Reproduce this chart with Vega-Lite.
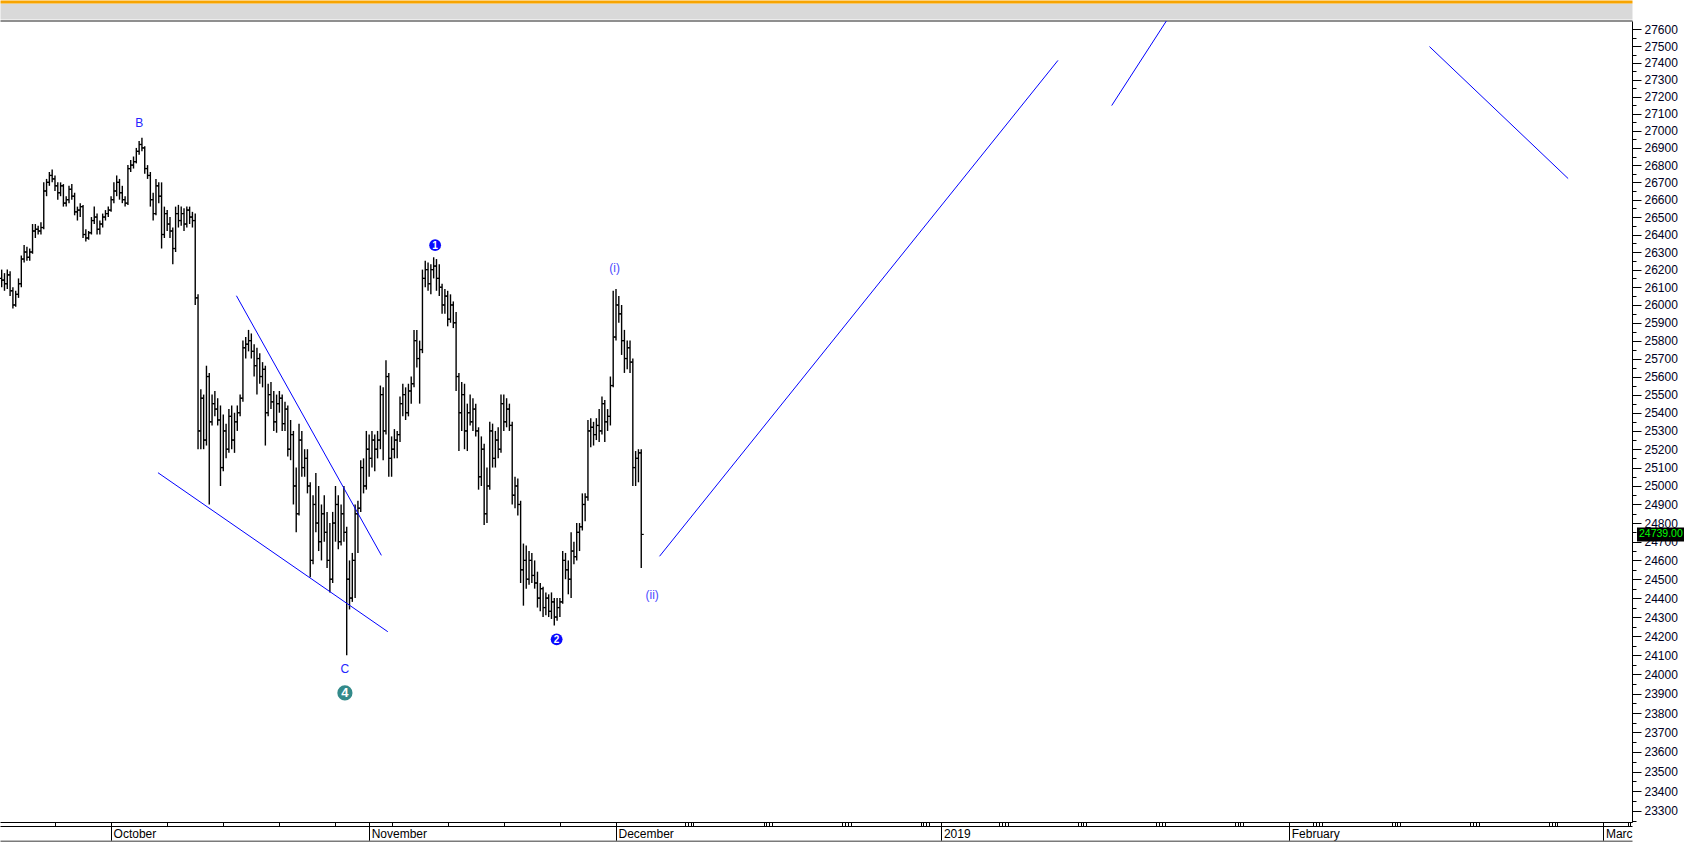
{
  "$schema": "https://vega.github.io/schema/vega-lite/v6.json",
  "width": 1632,
  "height": 801,
  "autosize": {"type": "none"},
  "padding": {"left": 0, "top": 21, "right": 52, "bottom": 20},
  "background": "#ffffff",
  "config": {"font": "Liberation Sans", "view": {"stroke": null}, "axis": {"labelFont": "Liberation Sans", "grid": false, "title": null}},
  "datasets": {
    "bars": [
      {"d":-9.75,"o":26150,"h":26200,"l":26100,"c":26140},
      {"d":-9.5,"o":26140,"h":26180,"l":26080,"c":26120},
      {"d":-9.25,"o":26120,"h":26200,"l":26090,"c":26170},
      {"d":-9.0,"o":26170,"h":26190,"l":26050,"c":26080},
      {"d":-8.75,"o":26080,"h":26100,"l":25980,"c":26000},
      {"d":-8.5,"o":26000,"h":26080,"l":25990,"c":26060},
      {"d":-8.25,"o":26060,"h":26150,"l":26040,"c":26120},
      {"d":-8.0,"o":26120,"h":26280,"l":26100,"c":26260},
      {"d":-7.75,"o":26260,"h":26340,"l":26240,"c":26300},
      {"d":-7.5,"o":26300,"h":26330,"l":26250,"c":26270},
      {"d":-7.25,"o":26270,"h":26320,"l":26250,"c":26300},
      {"d":-7.0,"o":26300,"h":26460,"l":26290,"c":26420},
      {"d":-6.75,"o":26420,"h":26460,"l":26380,"c":26430},
      {"d":-6.5,"o":26430,"h":26450,"l":26400,"c":26420},
      {"d":-6.25,"o":26420,"h":26470,"l":26400,"c":26440},
      {"d":-6.0,"o":26440,"h":26700,"l":26430,"c":26650},
      {"d":-5.75,"o":26650,"h":26720,"l":26620,"c":26700},
      {"d":-5.5,"o":26700,"h":26760,"l":26680,"c":26740},
      {"d":-5.25,"o":26740,"h":26775,"l":26700,"c":26720},
      {"d":-5.0,"o":26720,"h":26740,"l":26650,"c":26680},
      {"d":-4.75,"o":26680,"h":26700,"l":26600,"c":26640},
      {"d":-4.5,"o":26640,"h":26700,"l":26620,"c":26680},
      {"d":-4.25,"o":26680,"h":26690,"l":26560,"c":26580},
      {"d":-4.0,"o":26580,"h":26620,"l":26560,"c":26600},
      {"d":-3.75,"o":26600,"h":26680,"l":26580,"c":26660},
      {"d":-3.5,"o":26660,"h":26690,"l":26600,"c":26620},
      {"d":-3.25,"o":26620,"h":26640,"l":26510,"c":26530},
      {"d":-3.0,"o":26530,"h":26560,"l":26480,"c":26540},
      {"d":-2.75,"o":26540,"h":26580,"l":26500,"c":26560},
      {"d":-2.5,"o":26560,"h":26570,"l":26380,"c":26400},
      {"d":-2.25,"o":26400,"h":26430,"l":26360,"c":26380},
      {"d":-2.0,"o":26380,"h":26420,"l":26370,"c":26410},
      {"d":-1.75,"o":26410,"h":26500,"l":26400,"c":26480},
      {"d":-1.5,"o":26480,"h":26560,"l":26460,"c":26500},
      {"d":-1.25,"o":26500,"h":26520,"l":26400,"c":26430},
      {"d":-1.0,"o":26430,"h":26480,"l":26400,"c":26460},
      {"d":-0.75,"o":26460,"h":26520,"l":26440,"c":26500},
      {"d":-0.5,"o":26500,"h":26540,"l":26480,"c":26520},
      {"d":-0.25,"o":26520,"h":26560,"l":26500,"c":26540},
      {"d":0.0,"o":26540,"h":26620,"l":26530,"c":26600},
      {"d":0.25,"o":26600,"h":26700,"l":26580,"c":26650},
      {"d":0.5,"o":26650,"h":26740,"l":26620,"c":26700},
      {"d":0.75,"o":26700,"h":26720,"l":26600,"c":26640},
      {"d":1.0,"o":26640,"h":26680,"l":26580,"c":26600},
      {"d":1.25,"o":26600,"h":26620,"l":26560,"c":26580},
      {"d":1.5,"o":26580,"h":26800,"l":26570,"c":26780},
      {"d":1.75,"o":26780,"h":26830,"l":26760,"c":26800},
      {"d":2.0,"o":26800,"h":26850,"l":26780,"c":26820},
      {"d":2.25,"o":26820,"h":26900,"l":26810,"c":26880},
      {"d":2.5,"o":26880,"h":26940,"l":26860,"c":26920},
      {"d":2.75,"o":26920,"h":26960,"l":26880,"c":26900},
      {"d":3.0,"o":26900,"h":26910,"l":26750,"c":26780},
      {"d":3.25,"o":26780,"h":26800,"l":26720,"c":26740},
      {"d":3.5,"o":26740,"h":26760,"l":26560,"c":26600},
      {"d":3.75,"o":26600,"h":26640,"l":26480,"c":26520},
      {"d":4.0,"o":26520,"h":26720,"l":26510,"c":26680},
      {"d":4.25,"o":26680,"h":26700,"l":26580,"c":26620},
      {"d":4.5,"o":26620,"h":26700,"l":26320,"c":26400},
      {"d":4.75,"o":26400,"h":26560,"l":26380,"c":26520},
      {"d":5.0,"o":26520,"h":26540,"l":26420,"c":26460},
      {"d":5.25,"o":26460,"h":26500,"l":26380,"c":26420},
      {"d":5.5,"o":26420,"h":26440,"l":26230,"c":26320},
      {"d":5.75,"o":26320,"h":26560,"l":26300,"c":26520},
      {"d":6.0,"o":26520,"h":26570,"l":26440,"c":26480},
      {"d":6.25,"o":26480,"h":26560,"l":26450,"c":26520},
      {"d":6.5,"o":26520,"h":26550,"l":26420,"c":26460},
      {"d":6.75,"o":26460,"h":26560,"l":26440,"c":26540},
      {"d":7.0,"o":26540,"h":26560,"l":26460,"c":26500},
      {"d":7.25,"o":26500,"h":26530,"l":26440,"c":26480},
      {"d":7.5,"o":26480,"h":26520,"l":26000,"c":26040},
      {"d":7.75,"o":26040,"h":26060,"l":25200,"c":25300},
      {"d":8.0,"o":25300,"h":25530,"l":25200,"c":25480},
      {"d":8.25,"o":25480,"h":25500,"l":25200,"c":25250},
      {"d":8.5,"o":25250,"h":25660,"l":25220,"c":25600},
      {"d":8.75,"o":25600,"h":25620,"l":24900,"c":25350},
      {"d":9.0,"o":25350,"h":25500,"l":25330,"c":25450},
      {"d":9.25,"o":25450,"h":25520,"l":25380,"c":25420},
      {"d":9.5,"o":25420,"h":25480,"l":25330,"c":25360},
      {"d":9.75,"o":25360,"h":25440,"l":25000,"c":25100},
      {"d":10.0,"o":25100,"h":25390,"l":25080,"c":25300},
      {"d":10.25,"o":25300,"h":25340,"l":25150,"c":25200},
      {"d":10.5,"o":25200,"h":25420,"l":25180,"c":25380},
      {"d":10.75,"o":25380,"h":25440,"l":25200,"c":25250},
      {"d":11.0,"o":25250,"h":25400,"l":25180,"c":25350},
      {"d":11.25,"o":25350,"h":25440,"l":25300,"c":25400},
      {"d":11.5,"o":25400,"h":25500,"l":25380,"c":25480},
      {"d":11.75,"o":25480,"h":25800,"l":25460,"c":25760},
      {"d":12.0,"o":25760,"h":25820,"l":25700,"c":25780},
      {"d":12.25,"o":25780,"h":25860,"l":25740,"c":25800},
      {"d":12.5,"o":25800,"h":25840,"l":25700,"c":25740},
      {"d":12.75,"o":25740,"h":25780,"l":25600,"c":25660},
      {"d":13.0,"o":25660,"h":25760,"l":25500,"c":25700},
      {"d":13.25,"o":25700,"h":25730,"l":25560,"c":25600},
      {"d":13.5,"o":25600,"h":25680,"l":25540,"c":25640},
      {"d":13.75,"o":25640,"h":25660,"l":25220,"c":25400},
      {"d":14.0,"o":25400,"h":25560,"l":25380,"c":25500},
      {"d":14.25,"o":25500,"h":25570,"l":25420,"c":25460},
      {"d":14.5,"o":25460,"h":25520,"l":25300,"c":25350},
      {"d":14.75,"o":25350,"h":25500,"l":25290,"c":25450},
      {"d":15.0,"o":25450,"h":25520,"l":25400,"c":25480},
      {"d":15.25,"o":25480,"h":25500,"l":25300,"c":25340},
      {"d":15.5,"o":25340,"h":25460,"l":25300,"c":25420},
      {"d":15.75,"o":25420,"h":25440,"l":25160,"c":25200},
      {"d":16.0,"o":25200,"h":25360,"l":25140,"c":25280},
      {"d":16.25,"o":25280,"h":25300,"l":24900,"c":25000},
      {"d":16.5,"o":25000,"h":25100,"l":24750,"c":24850},
      {"d":16.75,"o":24850,"h":25340,"l":24840,"c":25250},
      {"d":17.0,"o":25250,"h":25300,"l":25050,"c":25100},
      {"d":17.25,"o":25100,"h":25200,"l":25050,"c":25150},
      {"d":17.5,"o":25150,"h":25200,"l":24960,"c":25000},
      {"d":17.75,"o":25000,"h":25020,"l":24510,"c":24600},
      {"d":18.0,"o":24600,"h":24950,"l":24580,"c":24900},
      {"d":18.25,"o":24900,"h":25070,"l":24750,"c":24800},
      {"d":18.5,"o":24800,"h":25000,"l":24650,"c":24700},
      {"d":18.75,"o":24700,"h":24900,"l":24600,"c":24850},
      {"d":19.0,"o":24850,"h":24950,"l":24700,"c":24750},
      {"d":19.25,"o":24750,"h":24860,"l":24560,"c":24600},
      {"d":19.5,"o":24600,"h":24800,"l":24430,"c":24500},
      {"d":19.75,"o":24500,"h":24860,"l":24480,"c":24800},
      {"d":20.0,"o":24800,"h":25000,"l":24700,"c":24900},
      {"d":20.25,"o":24900,"h":24950,"l":24660,"c":24700},
      {"d":20.5,"o":24700,"h":24900,"l":24680,"c":24850},
      {"d":20.75,"o":24850,"h":25000,"l":24700,"c":24750},
      {"d":21.0,"o":24750,"h":24780,"l":24100,"c":24500},
      {"d":21.25,"o":24500,"h":24600,"l":24340,"c":24400},
      {"d":21.5,"o":24400,"h":24640,"l":24380,"c":24600},
      {"d":21.75,"o":24600,"h":24900,"l":24400,"c":24850},
      {"d":22.0,"o":24850,"h":24920,"l":24640,"c":24880},
      {"d":22.25,"o":24880,"h":25140,"l":24860,"c":25100},
      {"d":22.5,"o":25100,"h":25150,"l":24960,"c":25000},
      {"d":22.75,"o":25000,"h":25300,"l":24980,"c":25200},
      {"d":23.0,"o":25200,"h":25280,"l":25050,"c":25150},
      {"d":23.25,"o":25150,"h":25300,"l":25100,"c":25250},
      {"d":23.5,"o":25250,"h":25280,"l":25080,"c":25200},
      {"d":23.75,"o":25200,"h":25300,"l":25150,"c":25250},
      {"d":24.0,"o":25250,"h":25550,"l":25200,"c":25500},
      {"d":24.25,"o":25500,"h":25540,"l":25140,"c":25300},
      {"d":24.5,"o":25300,"h":25690,"l":25280,"c":25600},
      {"d":24.75,"o":25600,"h":25620,"l":25050,"c":25150},
      {"d":25.0,"o":25150,"h":25270,"l":25050,"c":25200},
      {"d":25.25,"o":25200,"h":25310,"l":25150,"c":25250},
      {"d":25.5,"o":25250,"h":25300,"l":25150,"c":25280},
      {"d":25.75,"o":25280,"h":25490,"l":25240,"c":25450},
      {"d":26.0,"o":25450,"h":25560,"l":25380,"c":25500},
      {"d":26.25,"o":25500,"h":25540,"l":25360,"c":25400},
      {"d":26.5,"o":25400,"h":25560,"l":25380,"c":25520},
      {"d":26.75,"o":25520,"h":25600,"l":25450,"c":25560},
      {"d":27.0,"o":25560,"h":25860,"l":25540,"c":25800},
      {"d":27.25,"o":25800,"h":25860,"l":25650,"c":25700},
      {"d":27.5,"o":25700,"h":25800,"l":25450,"c":25750},
      {"d":27.75,"o":25750,"h":26200,"l":25730,"c":26150},
      {"d":28.0,"o":26150,"h":26250,"l":26100,"c":26200},
      {"d":28.25,"o":26200,"h":26240,"l":26080,"c":26120},
      {"d":28.5,"o":26120,"h":26230,"l":26060,"c":26200},
      {"d":28.75,"o":26200,"h":26270,"l":26150,"c":26220},
      {"d":29.0,"o":26220,"h":26260,"l":26080,"c":26150},
      {"d":29.25,"o":26150,"h":26230,"l":26050,"c":26100},
      {"d":29.5,"o":26100,"h":26120,"l":25950,"c":26000},
      {"d":29.75,"o":26000,"h":26090,"l":25950,"c":26050},
      {"d":30.0,"o":26050,"h":26080,"l":25880,"c":25920},
      {"d":30.25,"o":25920,"h":26060,"l":25900,"c":26000},
      {"d":30.5,"o":26000,"h":26020,"l":25870,"c":25900},
      {"d":30.75,"o":25900,"h":25960,"l":25520,"c":25600},
      {"d":31.0,"o":25600,"h":25620,"l":25190,"c":25400},
      {"d":31.25,"o":25400,"h":25570,"l":25300,"c":25500},
      {"d":31.5,"o":25500,"h":25560,"l":25200,"c":25300},
      {"d":31.75,"o":25300,"h":25450,"l":25190,"c":25400},
      {"d":32.0,"o":25400,"h":25500,"l":25330,"c":25350},
      {"d":32.25,"o":25350,"h":25480,"l":25300,"c":25420},
      {"d":32.5,"o":25420,"h":25450,"l":25270,"c":25300},
      {"d":32.75,"o":25300,"h":25320,"l":24980,"c":25050},
      {"d":33.0,"o":25050,"h":25270,"l":25000,"c":25200},
      {"d":33.25,"o":25200,"h":25230,"l":24790,"c":24850},
      {"d":33.5,"o":24850,"h":25100,"l":24800,"c":25000},
      {"d":33.75,"o":25000,"h":25350,"l":24980,"c":25300},
      {"d":34.0,"o":25300,"h":25340,"l":25100,"c":25150},
      {"d":34.25,"o":25150,"h":25300,"l":25100,"c":25250},
      {"d":34.5,"o":25250,"h":25320,"l":25150,"c":25200},
      {"d":34.75,"o":25200,"h":25500,"l":25180,"c":25450},
      {"d":35.0,"o":25450,"h":25500,"l":25300,"c":25350},
      {"d":35.25,"o":25350,"h":25480,"l":25320,"c":25420},
      {"d":35.5,"o":25420,"h":25450,"l":25300,"c":25330},
      {"d":35.75,"o":25330,"h":25350,"l":24900,"c":24950},
      {"d":36.0,"o":24950,"h":25050,"l":24880,"c":25000},
      {"d":36.25,"o":25000,"h":25040,"l":24840,"c":24900},
      {"d":36.5,"o":24900,"h":24920,"l":24480,"c":24550},
      {"d":36.75,"o":24550,"h":24690,"l":24360,"c":24600},
      {"d":37.0,"o":24600,"h":24680,"l":24450,"c":24500},
      {"d":37.25,"o":24500,"h":24650,"l":24470,"c":24600},
      {"d":37.5,"o":24600,"h":24640,"l":24480,"c":24520},
      {"d":37.75,"o":24520,"h":24600,"l":24450,"c":24480},
      {"d":38.0,"o":24480,"h":24540,"l":24350,"c":24400},
      {"d":38.25,"o":24400,"h":24480,"l":24330,"c":24450},
      {"d":38.5,"o":24450,"h":24460,"l":24300,"c":24350},
      {"d":38.75,"o":24350,"h":24430,"l":24310,"c":24400},
      {"d":39.0,"o":24400,"h":24420,"l":24300,"c":24330},
      {"d":39.25,"o":24330,"h":24430,"l":24290,"c":24380},
      {"d":39.5,"o":24380,"h":24400,"l":24255,"c":24300},
      {"d":39.75,"o":24300,"h":24400,"l":24280,"c":24350},
      {"d":40.0,"o":24350,"h":24400,"l":24300,"c":24380},
      {"d":40.25,"o":24380,"h":24650,"l":24370,"c":24600},
      {"d":40.5,"o":24600,"h":24640,"l":24500,"c":24550},
      {"d":40.75,"o":24550,"h":24600,"l":24420,"c":24500},
      {"d":41.0,"o":24500,"h":24750,"l":24400,"c":24650},
      {"d":41.25,"o":24650,"h":24700,"l":24580,"c":24620},
      {"d":41.5,"o":24620,"h":24800,"l":24600,"c":24750},
      {"d":41.75,"o":24750,"h":24800,"l":24650,"c":24780},
      {"d":42.0,"o":24780,"h":24960,"l":24760,"c":24900},
      {"d":42.25,"o":24900,"h":24960,"l":24810,"c":24940},
      {"d":42.5,"o":24940,"h":25360,"l":24920,"c":25300},
      {"d":42.75,"o":25300,"h":25370,"l":25210,"c":25320},
      {"d":43.0,"o":25320,"h":25350,"l":25220,"c":25280},
      {"d":43.25,"o":25280,"h":25370,"l":25250,"c":25330},
      {"d":43.5,"o":25330,"h":25420,"l":25240,"c":25300},
      {"d":43.75,"o":25300,"h":25490,"l":25280,"c":25450},
      {"d":44.0,"o":25450,"h":25470,"l":25240,"c":25350},
      {"d":44.25,"o":25350,"h":25420,"l":25300,"c":25380},
      {"d":44.5,"o":25380,"h":25600,"l":25330,"c":25550},
      {"d":44.75,"o":25550,"h":26080,"l":25540,"c":25820},
      {"d":45.0,"o":25820,"h":26090,"l":25800,"c":26000},
      {"d":45.25,"o":26000,"h":26050,"l":25900,"c":25950},
      {"d":45.5,"o":25950,"h":26000,"l":25720,"c":25800},
      {"d":45.75,"o":25800,"h":25860,"l":25620,"c":25700},
      {"d":46.0,"o":25700,"h":25800,"l":25640,"c":25760},
      {"d":46.25,"o":25760,"h":25800,"l":25620,"c":25680},
      {"d":46.5,"o":25680,"h":25700,"l":25000,"c":25100},
      {"d":46.75,"o":25100,"h":25190,"l":25000,"c":25150},
      {"d":47.0,"o":25150,"h":25200,"l":25020,"c":25180},
      {"d":47.25,"o":25180,"h":25200,"l":24560,"c":24739}
    ],
    "lines": [
      {"d1":11.17,"p1":26052,"d2":24.09,"p2":24627},
      {"d1":4.18,"p1":25072,"d2":24.66,"p2":24223},
      {"d1":48.88,"p1":24622,"d2":84.39,"p2":27415},
      {"d1":89.18,"p1":27148,"d2":94.05,"p2":27650},
      {"d1":117.5,"p1":27497,"d2":129.86,"p2":26722}
    ],
    "labels": [
      {"d":2.5,"p":27047,"t":"B","grp":"abc"},
      {"d":20.84,"p":24027,"t":"C","grp":"abc"},
      {"d":44.88,"p":26211,"t":"(i)","grp":"minor"},
      {"d":48.22,"p":24416,"t":"(ii)","grp":"minor"}
    ],
    "circles": [
      {"d":20.84,"p":23904,"t":"4","kind":"major"},
      {"d":28.88,"p":26339,"t":"1","kind":"minor"},
      {"d":39.71,"p":24183,"t":"2","kind":"minor"}
    ],
    "last": [{"p":24739}]
  },
  "layer": [
    {
      "data": {"name": "bars"},
      "mark": {"type": "rule", "color": "#000000", "strokeWidth": 1.4},
      "encoding": {
        "x": {"field": "d", "type": "quantitative", "scale": {"domain": [-9.9, 135.55], "nice": false, "zero": false},
          "axis": {"orient": "bottom", "values": [-5,5,10,15,20,25,30,35,40,51.15,51.4,51.65,51.9,58.15,58.4,58.65,58.9,65.15,65.4,65.65,65.9,72.15,72.4,72.65,72.9,79.15,79.4,79.65,79.9,86.15,86.4,86.65,86.9,93.15,93.4,93.65,93.9,100.15,100.4,100.65,100.9,107.15,107.4,107.65,107.9,114.15,114.4,114.65,114.9,121.15,121.4,121.65,121.9,128.15,128.4,128.65,128.9,135.15,135.4],
            "tickSize": 4, "tickColor": "#000000", "tickWidth": 1, "domain": true, "domainColor": "#000000", "domainWidth": 1, "labels": false, "grid": false, "title": null}},
        "y": {"field": "l", "type": "quantitative", "scale": {"type": "log", "domain": [23244.5, 27650], "nice": false, "zero": false},
          "axis": {"orient": "right", "values": [23300,23400,23500,23600,23700,23800,23900,24000,24100,24200,24300,24400,24500,24600,24700,24800,24900,25000,25100,25200,25300,25400,25500,25600,25700,25800,25900,26000,26100,26200,26300,26400,26500,26600,26700,26800,26900,27000,27100,27200,27300,27400,27500,27600],
            "format": "d", "tickSize": 9, "tickColor": "#000000", "domainColor": "#000000", "domainWidth": 1, "labelPadding": 3, "labelFontSize": 12, "labelColor": "#000022", "labelOverlap": false, "labelFlush": false, "labelBound": false, "grid": false, "title": null}},
        "y2": {"field": "h"}
      }
    },
    {
      "data": {"name": "bars"},
      "mark": {"type": "tick", "orient": "horizontal", "size": 2.5, "thickness": 1.2, "xOffset": -1.25, "color": "#000000", "opacity": 1},
      "encoding": {
        "x": {"field": "d", "type": "quantitative", "scale": {"domain": [-9.9, 135.55], "nice": false, "zero": false},
          "axis": {"orient": "bottom", "values": [0, 23, 45, 74, 105, 133], "tickSize": 19, "tickColor": "#000000", "tickWidth": 1, "domain": false,
            "labelExpr": "datum.value == 0 ? 'October' : datum.value == 23 ? 'November' : datum.value == 45 ? 'December' : datum.value == 74 ? '2019' : datum.value == 105 ? 'February' : 'Marc'",
            "labelAlign": "left", "labelBaseline": "top", "labelPadding": -13, "labelOffset": 2, "labelFontSize": 12, "labelColor": "#000000", "labelOverlap": false, "labelFlush": false, "labelBound": false, "grid": false, "title": null}},
        "y": {"field": "o", "type": "quantitative", "scale": {"type": "log", "domain": [23244.5, 27650], "nice": false, "zero": false},
          "axis": {"orient": "right", "values": [23250,23350,23450,23550,23650,23750,23850,23950,24050,24150,24250,24350,24450,24550,24650,24750,24850,24950,25050,25150,25250,25350,25450,25550,25650,25750,25850,25950,26050,26150,26250,26350,26450,26550,26650,26750,26850,26950,27050,27150,27250,27350,27450,27550],
            "tickSize": 4, "tickColor": "#000000", "domain": false, "labels": false, "grid": false, "title": null}}
      }
    },
    {
      "data": {"name": "bars"},
      "mark": {"type": "tick", "orient": "horizontal", "size": 2.5, "thickness": 1.2, "xOffset": 1.25, "color": "#000000", "opacity": 1},
      "encoding": {
        "x": {"field": "d", "type": "quantitative", "scale": {"domain": [-9.9, 135.55], "nice": false, "zero": false},
          "axis": {"orient": "bottom", "offset": 4, "domain": true, "domainColor": "#000000", "domainWidth": 1, "ticks": false, "labels": false, "grid": false, "title": null}},
        "y": {"field": "c", "type": "quantitative", "scale": {"type": "log", "domain": [23244.5, 27650], "nice": false, "zero": false}, "axis": null}
      }
    },
    {
      "data": {"name": "lines"},
      "mark": {"type": "rule", "color": "#0000ff", "strokeWidth": 1},
      "encoding": {
        "x": {"field": "d1", "type": "quantitative", "scale": {"domain": [-9.9, 135.55], "nice": false, "zero": false},
          "axis": {"orient": "bottom", "offset": 19, "domain": true, "domainColor": "#7a7a7a", "domainWidth": 2, "ticks": false, "labels": false, "grid": false, "title": null}},
        "x2": {"field": "d2"},
        "y": {"field": "p1", "type": "quantitative", "scale": {"type": "log", "domain": [23244.5, 27650], "nice": false, "zero": false}, "axis": null},
        "y2": {"field": "p2"}
      }
    },
    {
      "data": {"name": "labels"},
      "transform": [{"filter": "datum.grp == 'abc'"}],
      "mark": {"type": "text", "align": "center", "baseline": "middle", "fontSize": 12, "font": "Liberation Sans", "color": "#2424ff"},
      "encoding": {
        "x": {"field": "d", "type": "quantitative", "scale": {"domain": [-9.9, 135.55], "nice": false, "zero": false},
          "axis": {"orient": "top", "offset": 0.5, "domain": true, "domainColor": "#6a6a6a", "domainWidth": 1.5, "ticks": false, "labels": false, "grid": false, "title": null}},
        "y": {"field": "p", "type": "quantitative", "scale": {"type": "log", "domain": [23244.5, 27650], "nice": false, "zero": false}, "axis": null},
        "text": {"field": "t"}
      }
    },
    {
      "data": {"name": "labels"},
      "transform": [{"filter": "datum.grp == 'minor'"}],
      "mark": {"type": "text", "align": "center", "baseline": "middle", "fontSize": 12, "font": "Liberation Sans", "color": "#4a4aff"},
      "encoding": {
        "x": {"field": "d", "type": "quantitative", "scale": {"domain": [-9.9, 135.55], "nice": false, "zero": false}, "axis": null},
        "y": {"field": "p", "type": "quantitative", "scale": {"type": "log", "domain": [23244.5, 27650], "nice": false, "zero": false}, "axis": null},
        "text": {"field": "t"}
      }
    },
    {
      "data": {"name": "circles"},
      "transform": [{"filter": "datum.kind == 'major'"}],
      "mark": {"type": "point", "shape": "circle", "filled": true, "opacity": 1, "strokeWidth": 0, "size": 230, "color": "#338a8a"},
      "encoding": {
        "x": {"field": "d", "type": "quantitative", "scale": {"domain": [-9.9, 135.55], "nice": false, "zero": false},
          "axis": {"orient": "top", "offset": 10, "domain": true, "domainColor": "#d9d9d9", "domainWidth": 16, "ticks": false, "labels": false, "grid": false, "title": null}},
        "y": {"field": "p", "type": "quantitative", "scale": {"type": "log", "domain": [23244.5, 27650], "nice": false, "zero": false}, "axis": null}
      }
    },
    {
      "data": {"name": "circles"},
      "transform": [{"filter": "datum.kind == 'minor'"}],
      "mark": {"type": "point", "shape": "circle", "filled": true, "opacity": 1, "strokeWidth": 0, "size": 140, "color": "#0a0aff"},
      "encoding": {
        "x": {"field": "d", "type": "quantitative", "scale": {"domain": [-9.9, 135.55], "nice": false, "zero": false}, "axis": null},
        "y": {"field": "p", "type": "quantitative", "scale": {"type": "log", "domain": [23244.5, 27650], "nice": false, "zero": false}, "axis": null}
      }
    },
    {
      "data": {"name": "circles"},
      "transform": [{"filter": "datum.kind == 'major'"}],
      "mark": {"type": "text", "align": "center", "baseline": "middle", "fontWeight": "bold", "color": "#ffffff", "font": "Liberation Sans", "fontSize": 13, "dy": 0.5},
      "encoding": {
        "x": {"field": "d", "type": "quantitative", "scale": {"domain": [-9.9, 135.55], "nice": false, "zero": false},
          "axis": {"orient": "top", "offset": 19.5, "domain": true, "domainColor": "#f7a400", "domainWidth": 3, "ticks": false, "labels": false, "grid": false, "title": null}},
        "y": {"field": "p", "type": "quantitative", "scale": {"type": "log", "domain": [23244.5, 27650], "nice": false, "zero": false}, "axis": null},
        "text": {"field": "t"}
      }
    },
    {
      "data": {"name": "circles"},
      "transform": [{"filter": "datum.kind == 'minor'"}],
      "mark": {"type": "text", "align": "center", "baseline": "middle", "fontWeight": "bold", "color": "#ffffff", "font": "Liberation Sans", "fontSize": 10, "dy": 0.5},
      "encoding": {
        "x": {"field": "d", "type": "quantitative", "scale": {"domain": [-9.9, 135.55], "nice": false, "zero": false}, "axis": null},
        "y": {"field": "p", "type": "quantitative", "scale": {"type": "log", "domain": [23244.5, 27650], "nice": false, "zero": false}, "axis": null},
        "text": {"field": "t"}
      }
    },
    {
      "data": {"name": "last"},
      "mark": {"type": "rect", "color": "#000000", "xOffset": 5, "x2Offset": 52, "yOffset": -7, "y2Offset": 7},
      "encoding": {
        "x": {"value": "width"},
        "x2": {"value": "width"},
        "y": {"field": "p", "type": "quantitative", "scale": {"type": "log", "domain": [23244.5, 27650], "nice": false, "zero": false}, "axis": null},
        "y2": {"field": "p"}
      }
    },
    {
      "data": {"name": "last"},
      "mark": {"type": "text", "align": "left", "baseline": "middle", "dx": 7, "color": "#00ff00", "fontSize": 10.5, "font": "Liberation Sans"},
      "encoding": {
        "x": {"value": "width"},
        "y": {"field": "p", "type": "quantitative", "scale": {"type": "log", "domain": [23244.5, 27650], "nice": false, "zero": false}, "axis": null},
        "text": {"field": "p", "type": "quantitative", "format": ".2f"}
      }
    }
  ],
  "resolve": {"axis": {"x": "independent", "y": "independent"}}
}
